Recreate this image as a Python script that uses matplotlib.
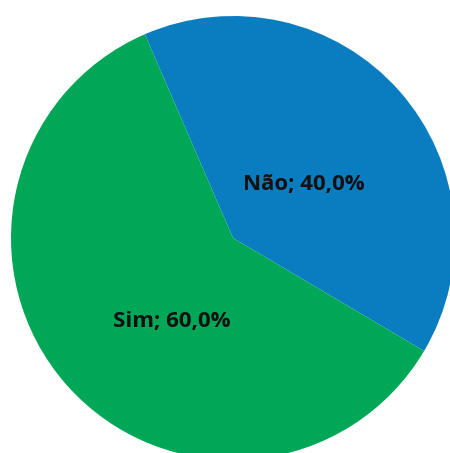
import matplotlib
matplotlib.use("Agg")
import matplotlib.pyplot as plt

labels = ["Não", "Sim"]
values = [40.0, 60.0]
colors = ["#0A7DC1", "#00A757"]

fig = plt.figure(figsize=(4.50, 4.53), dpi=100)
cx, cy, r = 233, 238, 222
W, H = 450, 453
ax = fig.add_axes([(cx - r) / W, (H - cy - r) / H, 2 * r / W, 2 * r / H])
ax.pie(values, colors=colors, startangle=113.4, counterclock=False,
       radius=1.0, wedgeprops=dict(linewidth=0))
ax.set_xlim(-1, 1)
ax.set_ylim(-1, 1)
ax.set_aspect("equal")
ax.axis("off")

def fmt(lbl, v):
    return f"{lbl}; {v:.1f}%".replace(".", ",")

pos = [(0.32, 0.239), (-0.277, -0.375)]
for lbl, v, (x, y) in zip(labels, values, pos):
    ax.text(x, y, fmt(lbl, v), ha="center", va="center", fontsize=16,
            fontweight="bold", family="Open Sans", color="#111111")

fig.savefig("out.png", dpi=100)
